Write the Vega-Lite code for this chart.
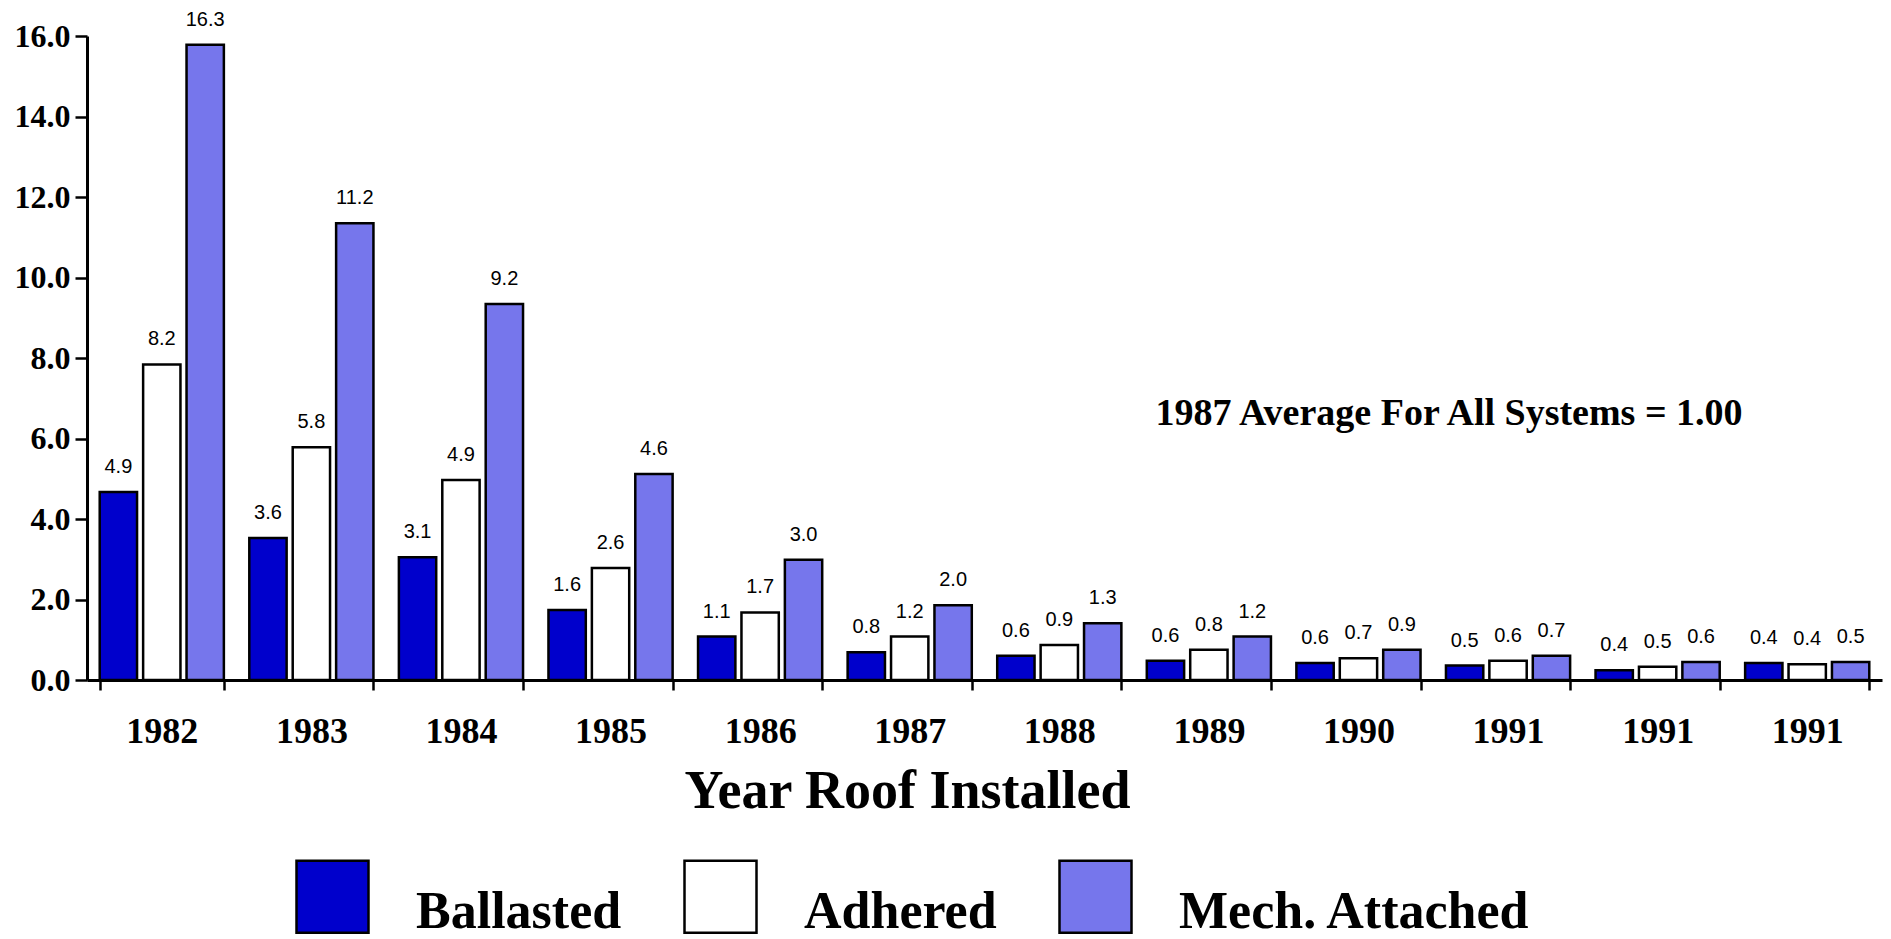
{
  "$schema": "https://vega.github.io/schema/vega-lite/v6.json",
  "autosize": "none",
  "padding": {"left": 87, "top": 36, "right": 9, "bottom": 259},
  "width": 1795,
  "height": 644,
  "background": "white",
  "config": {
    "view": {"stroke": null},
    "axis": {"grid": false, "domainColor": "black", "tickColor": "black", "labelColor": "black", "titleColor": "black"}
  },
  "datasets": {
    "bars": [
      {"year": "1982", "system": "Ballasted", "value": 4.67, "label": "4.9"},
      {"year": "1982", "system": "Adhered", "value": 7.84, "label": "8.2"},
      {"year": "1982", "system": "Mech. Attached", "value": 15.78, "label": "16.3"},
      {"year": "1983", "system": "Ballasted", "value": 3.53, "label": "3.6"},
      {"year": "1983", "system": "Adhered", "value": 5.78, "label": "5.8"},
      {"year": "1983", "system": "Mech. Attached", "value": 11.35, "label": "11.2"},
      {"year": "1984", "system": "Ballasted", "value": 3.05, "label": "3.1"},
      {"year": "1984", "system": "Adhered", "value": 4.97, "label": "4.9"},
      {"year": "1984", "system": "Mech. Attached", "value": 9.34, "label": "9.2"},
      {"year": "1985", "system": "Ballasted", "value": 1.74, "label": "1.6"},
      {"year": "1985", "system": "Adhered", "value": 2.78, "label": "2.6"},
      {"year": "1985", "system": "Mech. Attached", "value": 5.12, "label": "4.6"},
      {"year": "1986", "system": "Ballasted", "value": 1.08, "label": "1.1"},
      {"year": "1986", "system": "Adhered", "value": 1.68, "label": "1.7"},
      {"year": "1986", "system": "Mech. Attached", "value": 2.99, "label": "3.0"},
      {"year": "1987", "system": "Ballasted", "value": 0.69, "label": "0.8"},
      {"year": "1987", "system": "Adhered", "value": 1.08, "label": "1.2"},
      {"year": "1987", "system": "Mech. Attached", "value": 1.86, "label": "2.0"},
      {"year": "1988", "system": "Ballasted", "value": 0.6, "label": "0.6"},
      {"year": "1988", "system": "Adhered", "value": 0.87, "label": "0.9"},
      {"year": "1988", "system": "Mech. Attached", "value": 1.41, "label": "1.3"},
      {"year": "1989", "system": "Ballasted", "value": 0.48, "label": "0.6"},
      {"year": "1989", "system": "Adhered", "value": 0.75, "label": "0.8"},
      {"year": "1989", "system": "Mech. Attached", "value": 1.08, "label": "1.2"},
      {"year": "1990", "system": "Ballasted", "value": 0.42, "label": "0.6"},
      {"year": "1990", "system": "Adhered", "value": 0.54, "label": "0.7"},
      {"year": "1990", "system": "Mech. Attached", "value": 0.75, "label": "0.9"},
      {"year": "1991", "system": "Ballasted", "value": 0.36, "label": "0.5"},
      {"year": "1991", "system": "Adhered", "value": 0.48, "label": "0.6"},
      {"year": "1991", "system": "Mech. Attached", "value": 0.6, "label": "0.7"},
      {"year": "1991b", "system": "Ballasted", "value": 0.24, "label": "0.4"},
      {"year": "1991b", "system": "Adhered", "value": 0.33, "label": "0.5"},
      {"year": "1991b", "system": "Mech. Attached", "value": 0.45, "label": "0.6"},
      {"year": "1991c", "system": "Ballasted", "value": 0.42, "label": "0.4"},
      {"year": "1991c", "system": "Adhered", "value": 0.39, "label": "0.4"},
      {"year": "1991c", "system": "Mech. Attached", "value": 0.45, "label": "0.5"}
    ]
  },
  "layer": [
    {
      "data": {"name": "bars"},
      "mark": {"type": "bar", "stroke": "black", "strokeWidth": 2.5},
      "encoding": {
        "x": {
          "field": "year", "type": "nominal",
          "scale": {"domain": ["1982","1983","1984","1985","1986","1987","1988","1989","1990","1991","1991b","1991c"], "paddingInner": 0.17, "paddingOuter": 0.085},
          "axis": {
            "title": "Year Roof Installed",
            "labelExpr": "slice(datum.label, 0, 4)",
            "labelAngle": 0,
            "labelFont": "Liberation Serif", "labelFontWeight": "bold", "labelFontSize": 36,
            "labelPadding": 24, "labelDx": 9,
            "tickBand": "extent", "tickSize": 10, "tickWidth": 2.5,
            "domainWidth": 3,
            "titleFont": "Liberation Serif", "titleFontWeight": "bold", "titleFontSize": 54,
            "titleX": 820, "titleY": 127, "titleAlign": "center", "titleBaseline": "alphabetic"
          }
        },
        "xOffset": {"field": "system", "type": "nominal", "scale": {"domain": ["Ballasted", "Adhered", "Mech. Attached"], "paddingInner": 0.14, "paddingOuter": 0}},
        "y": {
          "field": "value", "type": "quantitative",
          "scale": {"domain": [0, 16]},
          "axis": {
            "title": null,
            "values": [0, 2, 4, 6, 8, 10, 12, 14, 16],
            "format": ".1f",
            "labelFont": "Liberation Serif", "labelFontWeight": "bold", "labelFontSize": 32,
            "labelPadding": 5, "tickSize": 12, "tickWidth": 2.5, "domainWidth": 3
          }
        },
        "color": {
          "field": "system", "type": "nominal",
          "scale": {"domain": ["Ballasted", "Adhered", "Mech. Attached"], "range": ["#0000cc", "#ffffff", "#7676ec"]},
          "legend": {
            "title": null,
            "orient": "none",
            "direction": "horizontal",
            "legendX": 208,
            "legendY": 823,
            "symbolType": "square",
            "symbolSize": 5184,
            "symbolStrokeColor": "black",
            "symbolStrokeWidth": 2.5,
            "symbolOpacity": 1,
            "labelFont": "Liberation Serif", "labelFontWeight": "bold", "labelFontSize": 52,
            "labelColor": "black",
            "labelOffset": 46,
            "labelBaseline": "alphabetic",
            "labelLimit": 0,
            "columnPadding": 57,
            "encode": {
              "labels": {"update": {"dy": {"value": 31}}},
              "symbols": {"update": {"stroke": {"value": "black"}, "strokeWidth": {"value": 2.5}}}
            }
          }
        }
      }
    },
    {
      "data": {"name": "bars"},
      "mark": {"type": "text", "font": "Liberation Sans", "fontSize": 20, "baseline": "alphabetic", "dy": -19, "color": "black"},
      "encoding": {
        "x": {"field": "year", "type": "nominal"},
        "xOffset": {"field": "system", "type": "nominal"},
        "y": {"field": "value", "type": "quantitative"},
        "text": {"field": "label"}
      }
    },
    {
      "data": {"values": [{"note": "1987 Average For All Systems = 1.00", "pos": "1991", "v": 6.6}]},
      "mark": {"type": "text", "font": "Liberation Serif", "fontWeight": "bold", "fontSize": 38, "baseline": "middle", "align": "center", "dx": -59, "color": "black"},
      "encoding": {
        "x": {"field": "pos", "type": "nominal"},
        "y": {"field": "v", "type": "quantitative"},
        "text": {"field": "note"}
      }
    }
  ]
}
